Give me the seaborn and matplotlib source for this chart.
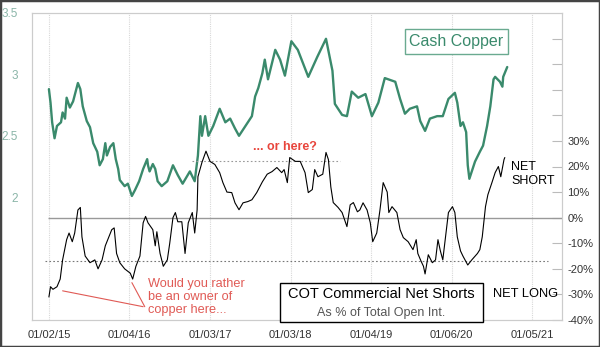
import numpy as np
import pandas as pd
import seaborn as sns
import matplotlib
matplotlib.use("Agg")
import matplotlib.pyplot as plt
from matplotlib.patches import Rectangle

# ---------------- data ----------------
copper_t = [2015.00, 2015.02, 2015.04, 2015.07, 2015.10, 2015.15, 2015.17, 2015.20, 2015.22, 2015.26,
            2015.30, 2015.36, 2015.39, 2015.42, 2015.47, 2015.51, 2015.55, 2015.60, 2015.63, 2015.67,
            2015.70, 2015.72, 2015.76, 2015.80, 2015.83, 2015.86, 2015.88, 2015.94, 2015.98, 2016.03,
            2016.07, 2016.12, 2016.17, 2016.22, 2016.23, 2016.25, 2016.29, 2016.32, 2016.35, 2016.40,
            2016.47, 2016.54, 2016.60, 2016.66, 2016.75, 2016.81, 2016.85, 2016.88, 2016.90, 2016.94,
            2016.98, 2017.04, 2017.12, 2017.19, 2017.25, 2017.31, 2017.36, 2017.43, 2017.52, 2017.56,
            2017.60, 2017.65, 2017.68, 2017.72, 2017.81, 2017.87, 2017.93, 2018.01, 2018.09, 2018.22,
            2018.33, 2018.44, 2018.52, 2018.55, 2018.64, 2018.70, 2018.76, 2018.84, 2018.93, 2019.01,
            2019.09, 2019.17, 2019.30, 2019.36, 2019.42, 2019.48, 2019.57, 2019.61, 2019.67, 2019.73,
            2019.82, 2019.89, 2019.96, 2020.04, 2020.07, 2020.11, 2020.14, 2020.18, 2020.20, 2020.22,
            2020.25, 2020.29, 2020.35, 2020.39, 2020.44, 2020.48, 2020.52, 2020.54, 2020.60, 2020.63,
            2020.64, 2020.69]
copper_v = [2.88, 2.77, 2.61, 2.48, 2.58, 2.61, 2.69, 2.64, 2.81, 2.73,
            2.78, 2.93, 2.88, 2.74, 2.62, 2.57, 2.44, 2.37, 2.26, 2.31,
            2.44, 2.34, 2.41, 2.44, 2.31, 2.23, 2.14, 2.09, 2.11, 2.01,
            2.06, 2.13, 2.23, 2.31, 2.26, 2.21, 2.27, 2.23, 2.13, 2.09,
            2.13, 2.26, 2.18, 2.11, 2.21, 2.13, 2.34, 2.66, 2.50, 2.66,
            2.50, 2.58, 2.72, 2.61, 2.64, 2.56, 2.50, 2.57, 2.66, 2.82,
            2.89, 3.01, 3.12, 2.96, 3.20, 3.12, 2.99, 3.27, 3.20, 2.98,
            3.14, 3.29, 3.03, 2.76, 2.67, 2.66, 2.86, 2.81, 2.84, 2.66,
            2.77, 2.97, 2.94, 2.80, 2.68, 2.72, 2.74, 2.62, 2.54, 2.64,
            2.66, 2.66, 2.80, 2.85, 2.77, 2.58, 2.61, 2.53, 2.26, 2.15,
            2.21, 2.29, 2.37, 2.42, 2.58, 2.74, 2.96, 2.98, 2.94, 2.90,
            2.98, 3.06]

cot_t = [2015.00, 2015.02, 2015.05, 2015.10, 2015.14, 2015.17, 2015.22, 2015.25, 2015.29, 2015.32,
         2015.36, 2015.39, 2015.41, 2015.45, 2015.51, 2015.57, 2015.61, 2015.66, 2015.70, 2015.73,
         2015.78, 2015.81, 2015.84, 2015.88, 2015.94, 2016.01, 2016.04, 2016.08, 2016.13, 2016.17,
         2016.20, 2016.23, 2016.29, 2016.32, 2016.34, 2016.38, 2016.42, 2016.47, 2016.50, 2016.54,
         2016.57, 2016.60, 2016.65, 2016.69, 2016.73, 2016.78, 2016.81, 2016.84, 2016.85, 2016.90,
         2016.95, 2017.00, 2017.06, 2017.12, 2017.16, 2017.21, 2017.27, 2017.31, 2017.36, 2017.41,
         2017.47, 2017.52, 2017.58, 2017.65, 2017.71, 2017.77, 2017.83, 2017.89, 2017.92, 2017.96,
         2017.99, 2018.06, 2018.12, 2018.18, 2018.22, 2018.27, 2018.30, 2018.34, 2018.40, 2018.44,
         2018.47, 2018.50, 2018.53, 2018.59, 2018.64, 2018.70, 2018.74, 2018.78, 2018.83, 2018.86,
         2018.90, 2018.95, 2018.99, 2019.02, 2019.07, 2019.11, 2019.15, 2019.20, 2019.22, 2019.26,
         2019.32, 2019.36, 2019.40, 2019.46, 2019.52, 2019.56, 2019.58, 2019.62, 2019.65, 2019.67,
         2019.71, 2019.76, 2019.80, 2019.83, 2019.86, 2019.89, 2019.96, 2020.01, 2020.04, 2020.07,
         2020.11, 2020.14, 2020.20, 2020.25, 2020.32, 2020.35, 2020.38, 2020.42, 2020.45, 2020.50,
         2020.54, 2020.58, 2020.61, 2020.65, 2020.66]
cot_v = [-31, -27, -28, -27, -24, -16.5, -8.6, -6, -9.4, -6,
         3, 4, -7.5, -15, -17.6, -16.5, -20, -16.5, -11, -8.6,
         -4.7, -4, -14, -17.6, -20, -21.7, -24, -19, -15, -2,
         0.5, -2, -4.7, -11, -5.5, -14, -19, -16.5, -10, 0,
         2, -1.6, -1.6, -14, -2, 2, -6, 3, 16, 21.6,
         26, 22, 20.8, 17.6, 13.7, 10, 9.8, 5.8, 3.1, 5.8,
         6.3, 7, 9.8, 14, 17, 18, 19.6, 17.6, 18.8, 13.7,
         23.5, 22, 22, 17.6, 9.8, 11, 18.8, 16, 17, 25.5,
         22.7, 12, 5.9, 4, 2, -3.5, 5, 5.9, 2.3, 3,
         5.8, 3, -2, -9.4, -6, 3, 13.7, 10, 2, 4.3,
         2, -4.7, -7.8, -9.4, -12.5, -8.6, -14, -17, -19, -22,
         -14.5, -17.6, -16.5, -8.6, -13, -16.5, 2, 4.3, 2, -7.5,
         -13, -15, -18.5, -16.5, -14, -12.5, -7.5, 4.3, 9, 13.7,
         17.6, 20, 16, 22.7, 23.5]

xtick_pos = [2015, 2016, 2017, 2018, 2019, 2020, 2021]
xtick_labels = ["01/02/15", "01/04/16", "01/03/17", "01/03/18", "01/04/19", "01/06/20", "01/05/21"]
left_ticks = [2, 2.5, 3, 3.5]
right_ticks = [-40, -30, -20, -10, 0, 10, 20, 30]
right_minor = [40, 50, 60, 70]
upper_ref = 22     # "... or here?" level
lower_ref = -17    # lower dotted level

# ---------------- style ----------------
sns.set_theme(style="white")
plt.rcParams["font.family"] = ["Liberation Sans", "DejaVu Sans"]

GREEN = "#3a8a6c"
RED = "#e8453c"
RED2 = "#e05a55"

fig = plt.figure(figsize=(6.0, 3.47), dpi=100)
ax = fig.add_axes([32/600, 1-320/347, 530/600, 307/347])
ax2 = ax.twinx()

df_c = pd.DataFrame({"t": copper_t, "v": copper_v})
df_n = pd.DataFrame({"t": cot_t, "v": cot_v})

sns.lineplot(data=df_c, x="t", y="v", ax=ax, color=GREEN, linewidth=1.7, zorder=3)
sns.lineplot(data=df_n, x="t", y="v", ax=ax2, color="black", linewidth=0.8, zorder=3)

xmin, xmax = 2014.79, 2021.37
ax.set_xlim(xmin, xmax)
ax.set_ylim(1.0, 3.5)
ax2.set_ylim(-40, 80)

# vertical grid
for xp in xtick_pos:
    ax.axvline(xp, color="#d8d8d8", linewidth=0.8, linestyle=(0, (1, 1)), zorder=0)

# reference lines
ax2.hlines(0, 2014.99, xmax, color="#999999", linewidth=1.0, zorder=1)
ax2.hlines(upper_ref, 2016.78, 2018.62, color="#999999", linewidth=0.8,
           linestyle=(0, (1.5, 2)), zorder=1)
ax2.hlines(lower_ref, 2014.95, 2021.19, color="#777777", linewidth=0.8,
           linestyle=(0, (1.5, 2)), zorder=1)

# ticks
ax.set_xticks(xtick_pos)
ax.set_xticklabels(xtick_labels, fontsize=8, color="#333333")
ax.set_yticks(left_ticks)
ax.set_yticklabels([f"{v:g}" for v in left_ticks], fontsize=8.5, color="#8ab5a8")
ax.tick_params(axis="both", length=0, pad=7)
ax.tick_params(axis="y", pad=10)

ax2.set_yticks(right_ticks + right_minor)
ax2.set_yticklabels([f"{v}%" for v in right_ticks] + [""] * len(right_minor),
                    fontsize=8, color="#333333")
ax2.tick_params(axis="y", direction="in", length=7, width=0.8, color="#bbbbbb", pad=4)

ax.set_xlabel("")
ax.set_ylabel("")
ax2.set_ylabel("")
ax2.set_xlabel("")

for a in (ax, ax2):
    for s in a.spines.values():
        s.set_color("#cccccc")
        s.set_linewidth(0.8)

# annotations
ax.text(2020.06, 3.27, "Cash Copper", fontsize=11.5, color=GREEN, ha="center", va="center",
        bbox=dict(boxstyle="square,pad=0.3", fc="white", ec="#6aaa90", lw=1.0), zorder=5)

ax2.text(2017.93, 27.5, "... or here?", fontsize=9, color=RED, ha="center", va="center",
         fontweight="bold")

ax2.text(2016.23, -31.0, "Would you rather\nbe an owner of\ncopper here...", fontsize=9.2,
         color=RED2, ha="left", va="center", linespacing=1.15)
ax2.plot([2015.17, 2016.17], [-28.6, -34.8], color=RED2, linewidth=0.8)
ax2.plot([2016.03, 2016.19], [-25.4, -34.8], color=RED2, linewidth=0.8)

box = Rectangle((280/600, 1-322/347), 203/600, 39/347, transform=fig.transFigure,
                fill=True, fc="white", ec="black", lw=1.0, zorder=4)
fig.patches.append(box)
fig.text(381/600, 1-294/347, "COT Commercial Net Shorts", fontsize=10.5, color="black",
         ha="center", va="center", zorder=6)
fig.text(381/600, 1-313/347, "As % of Total Open Int.", fontsize=9, color="#555555",
         ha="center", va="center", zorder=6)

fig.text(526/600, 1-294/347, "NET LONG", fontsize=9.3, color="black", ha="center", va="center")
fig.text(511/600, 1-174/347, "NET\nSHORT", fontsize=9, color="black", ha="left", va="center",
         linespacing=1.15)

# outer frame
fig.patches.append(Rectangle((0, 0), 1, 1, transform=fig.transFigure, fill=False,
                             ec="#444444", lw=2.5, zorder=10))

fig.savefig("out.png", dpi=100)
